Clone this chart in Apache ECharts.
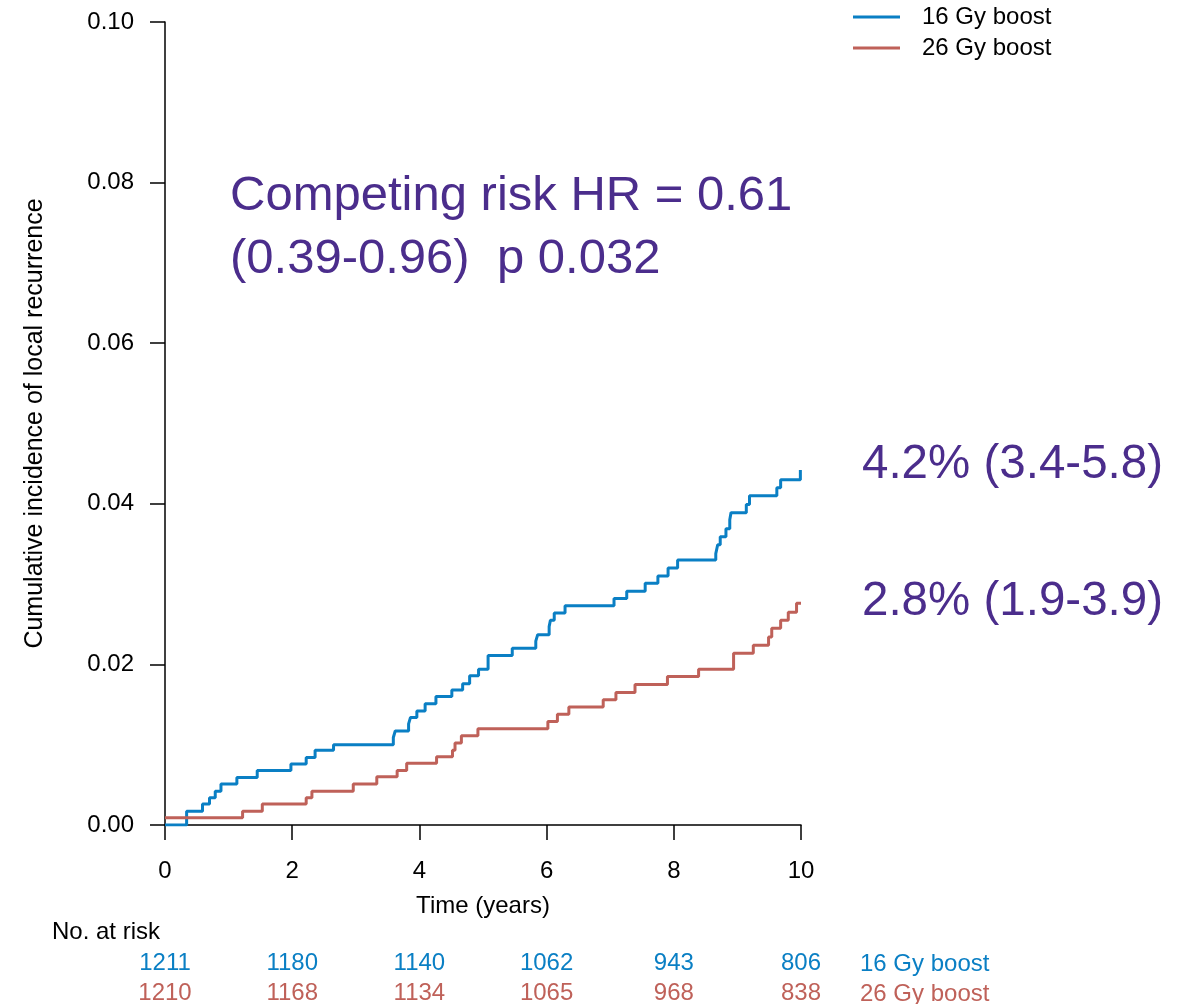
<!DOCTYPE html>
<html>
<head>
<meta charset="utf-8">
<script src="https://cdn.jsdelivr.net/npm/echarts@6/dist/echarts.min.js"></script>
<style>
  html, body { margin: 0; padding: 0; background: #fff; }
  #chart { width: 1183px; height: 1004px; }
</style>
</head>
<body>
<div id="chart"></div>
<script>
// Cumulative incidence step functions: [time in years, cumulative incidence]
const boost16 = [
  [0, 0], [0.34, 0.0017], [0.59, 0.0026], [0.70, 0.0034], [0.79, 0.0042], [0.88, 0.0051],
  [1.13, 0.0059], [1.45, 0.0068], [1.98, 0.0076], [2.22, 0.0084], [2.36, 0.0093],
  [2.65, 0.0100], [3.59, 0.0109], [3.62, 0.0117], [3.83, 0.0126], [3.86, 0.0134],
  [3.96, 0.0142], [4.09, 0.0151], [4.26, 0.0160], [4.51, 0.0168], [4.68, 0.0176],
  [4.79, 0.0186], [4.93, 0.0194], [5.08, 0.0211], [5.46, 0.0220], [5.83, 0.0229],
  [5.86, 0.0237], [6.04, 0.0247], [6.06, 0.0255], [6.12, 0.0264], [6.29, 0.0273],
  [7.06, 0.0282], [7.26, 0.0291], [7.55, 0.0301], [7.75, 0.0310], [7.91, 0.0320],
  [8.06, 0.0330], [8.66, 0.0338], [8.69, 0.0349], [8.73, 0.0359], [8.82, 0.0369],
  [8.88, 0.0380], [8.90, 0.0389], [9.14, 0.0399], [9.19, 0.0410], [9.62, 0.0420],
  [9.68, 0.0430], [9.99, 0.0442], [10, 0.0442]
];
const boost26 = [
  [0, 0.0009], [1.22, 0.0017], [1.53, 0.0026], [2.22, 0.0034], [2.31, 0.0042],
  [2.96, 0.0051], [3.33, 0.0060], [3.65, 0.0068], [3.80, 0.0077], [4.27, 0.0085],
  [4.52, 0.0093], [4.56, 0.0102], [4.66, 0.0111], [4.92, 0.0120], [6.02, 0.0129],
  [6.17, 0.0138], [6.35, 0.0147], [6.89, 0.0156], [7.09, 0.0165], [7.39, 0.0175],
  [7.90, 0.0185], [8.39, 0.0194], [8.94, 0.0214], [9.25, 0.0224], [9.49, 0.0234],
  [9.54, 0.0245], [9.68, 0.0255], [9.80, 0.0265], [9.93, 0.0276], [10, 0.0276]
];

// Numbers at risk at each 2-year mark
const riskTimes = [0, 2, 4, 6, 8, 10];
const risk16 = [1211, 1180, 1140, 1062, 943, 806];
const risk26 = [1210, 1168, 1134, 1065, 968, 838];

const seriesNames = ['16 Gy boost', '26 Gy boost'];
const colors = ['#0a7fc4', '#bf6159'];
const purple = '#4b2d8c';
const font = "'Liberation Sans', Arial, sans-serif";
const fs = 24;

const riskData = [];
riskTimes.forEach((t, i) => {
  riskData.push({ value: [t, 0], label: { color: colors[0], formatter: String(risk16[i]) } });
  riskData.push({ value: [t, 1], label: { color: colors[1], formatter: String(risk26[i]) } });
});

const chart = echarts.init(document.getElementById('chart'));
chart.setOption({
  backgroundColor: '#fff',
  animation: false,
  textStyle: { fontFamily: font },
  grid: [
    { left: 165, top: 22, width: 636, height: 803 },
    // risk table rows sit on the two ends of this strip
    { left: 165, top: 963, width: 636, height: 30 }
  ],
  legend: {
    data: seriesNames,
    left: 848, top: 0,
    orient: 'vertical',
    icon: 'rect',
    itemWidth: 47, itemHeight: 3, itemGap: 7,
    textStyle: { fontSize: fs, color: '#000', fontFamily: font, padding: [0, 0, 0, 17] }
  },
  xAxis: [
    {
      type: 'value', gridIndex: 0, min: 0, max: 10, interval: 2,
      name: 'Time (years)', nameLocation: 'middle', nameGap: 69,
      nameTextStyle: { fontSize: fs, color: '#000', fontFamily: font },
      axisLine: { show: true, lineStyle: { color: '#000', width: 1.5 } },
      axisTick: { show: true, length: 15, lineStyle: { color: '#000', width: 1.5 } },
      axisLabel: { fontSize: fs, color: '#000', margin: 34, fontFamily: font },
      splitLine: { show: false }
    },
    {
      type: 'value', gridIndex: 1, min: 0, max: 10, show: false
    }
  ],
  yAxis: [
    {
      type: 'value', gridIndex: 0, min: 0, max: 0.1, interval: 0.02,
      name: 'Cumulative incidence of local recurrence', nameLocation: 'middle', nameGap: 117,
      nameTextStyle: { fontSize: 25, color: '#000', fontFamily: font },
      axisLine: { show: true, lineStyle: { color: '#000', width: 1.5 } },
      axisTick: { show: true, length: 15, lineStyle: { color: '#000', width: 1.5 } },
      axisLabel: { fontSize: fs, color: '#000', margin: 31, fontFamily: font,
                   formatter: v => v.toFixed(2) },
      splitLine: { show: false }
    },
    {
      type: 'category', gridIndex: 1, data: seriesNames, inverse: true,
      boundaryGap: false, show: false
    }
  ],
  series: [
    {
      name: seriesNames[0], type: 'line', step: 'end', data: boost16,
      xAxisIndex: 0, yAxisIndex: 0, symbol: 'none', color: colors[0],
      lineStyle: { color: colors[0], width: 3 }
    },
    {
      name: seriesNames[1], type: 'line', step: 'end', data: boost26,
      xAxisIndex: 0, yAxisIndex: 0, symbol: 'none', color: colors[1],
      lineStyle: { color: colors[1], width: 3 }
    },
    {
      type: 'scatter', xAxisIndex: 1, yAxisIndex: 1, symbolSize: 0,
      data: riskData, silent: true,
      itemStyle: { opacity: 1 },
      label: { show: true, position: 'inside', fontSize: fs, fontFamily: font,
               opacity: 1, textBorderWidth: 0 }
    }
  ],
  graphic: [
    { type: 'text', left: 230, top: 172,
      style: { text: 'Competing risk HR = 0.61', fill: purple, fontSize: 49, fontFamily: font } },
    { type: 'text', left: 230, top: 235,
      style: { text: '(0.39-0.96)  p 0.032', fill: purple, fontSize: 49, fontFamily: font } },
    { type: 'text', left: 862, top: 441,
      style: { text: '4.2% (3.4-5.8)', fill: purple, fontSize: 47.5, fontFamily: font } },
    { type: 'text', left: 862, top: 578,
      style: { text: '2.8% (1.9-3.9)', fill: purple, fontSize: 47.5, fontFamily: font } },
    { type: 'text', left: 52, top: 920,
      style: { text: 'No. at risk', fill: '#000', fontSize: fs, fontFamily: font } },
    { type: 'text', left: 860, top: 952,
      style: { text: seriesNames[0], fill: colors[0], fontSize: fs, fontFamily: font } },
    { type: 'text', left: 860, top: 982,
      style: { text: seriesNames[1], fill: colors[1], fontSize: fs, fontFamily: font } }
  ]
});
</script>
</body>
</html>
